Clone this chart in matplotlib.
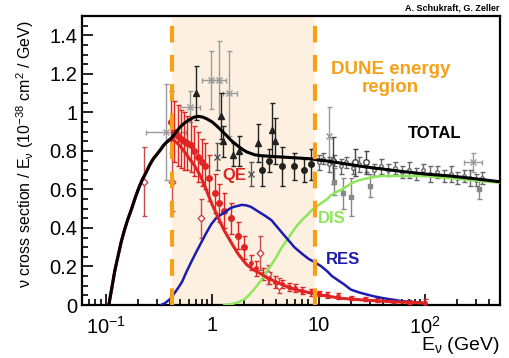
import matplotlib
matplotlib.use("Agg")
import matplotlib.pyplot as plt
from matplotlib.ticker import FixedLocator, FixedFormatter, NullFormatter

plt.rcParams["font.family"] = ["Liberation Sans", "DejaVu Sans"]
plt.rcParams["mathtext.fontset"] = "custom"
plt.rcParams["mathtext.rm"] = "Liberation Sans"
plt.rcParams["mathtext.it"] = "Liberation Sans"

# ---- model curves ----
total_E = [0.107, 0.11, 0.115, 0.12, 0.124, 0.13, 0.14, 0.15, 0.16, 0.175, 0.19, 0.205,
           0.22, 0.24, 0.26, 0.28, 0.3, 0.325, 0.35, 0.38, 0.42, 0.46, 0.5, 0.55, 0.6,
           0.67, 0.74, 0.82, 0.9, 1.0, 1.1, 1.2, 1.36, 1.5, 1.7, 1.9, 2.1, 2.5, 2.9, 4,
           8, 13, 25, 57, 100, 170, 300, 500]
total_xs = [0, 0.04, 0.10, 0.16, 0.20, 0.25, 0.33, 0.39, 0.44, 0.50, 0.56, 0.61,
            0.65, 0.69, 0.73, 0.76, 0.78, 0.805, 0.83, 0.85, 0.87, 0.90, 0.925, 0.945,
            0.96, 0.975, 0.98, 0.975, 0.965, 0.95, 0.93, 0.91, 0.88, 0.855, 0.83, 0.81,
            0.795, 0.78, 0.775, 0.77, 0.76, 0.745, 0.72, 0.695, 0.68, 0.67, 0.655, 0.64]

qe_E = [0.107, 0.11, 0.115, 0.12, 0.124, 0.13, 0.14, 0.15, 0.16, 0.175, 0.19, 0.205,
        0.22, 0.24, 0.26, 0.28, 0.3, 0.325, 0.35, 0.38, 0.42, 0.46, 0.5, 0.55, 0.6,
        0.67, 0.74, 0.82, 0.92, 1.0, 1.1, 1.2, 1.3, 1.45, 1.6, 1.75, 1.9, 2.1, 2.4,
        2.9, 3.3, 3.8, 4.8, 6, 8, 11, 16, 25, 40, 60, 100]
qe_xs = [0, 0.04, 0.10, 0.16, 0.20, 0.25, 0.33, 0.39, 0.44, 0.50, 0.56, 0.61,
         0.65, 0.69, 0.73, 0.76, 0.78, 0.805, 0.83, 0.85, 0.86, 0.845, 0.825, 0.795,
         0.765, 0.73, 0.69, 0.64, 0.57, 0.52, 0.47, 0.425, 0.385, 0.34, 0.30, 0.265,
         0.24, 0.21, 0.185, 0.16, 0.14, 0.125, 0.10, 0.08, 0.065, 0.05, 0.035, 0.027,
         0.02, 0.015, 0.01]

res_E = [0.33, 0.36, 0.4, 0.44, 0.48, 0.52, 0.57, 0.63, 0.7, 0.78, 0.87, 0.98, 1.1,
         1.3, 1.45, 1.6, 1.9, 2.1, 2.3, 2.8, 3.2, 3.6, 4.6, 5.9, 7, 8, 9.3, 10.6, 12,
         13.3, 15, 17, 20, 24, 28, 33, 39, 50, 60, 80, 100]
res_xs = [0, 0.01, 0.03, 0.06, 0.09, 0.12, 0.17, 0.22, 0.27, 0.32, 0.37, 0.42, 0.455,
          0.48, 0.50, 0.51, 0.52, 0.517, 0.51, 0.48, 0.46, 0.44, 0.37, 0.30, 0.265,
          0.24, 0.22, 0.20, 0.175, 0.15, 0.13, 0.11, 0.08, 0.065, 0.055, 0.045, 0.037,
          0.027, 0.02, 0.014, 0.01]

dis_E = [1.3, 1.5, 1.76, 2.0, 2.2, 2.5, 2.9, 3.2, 3.6, 4, 4.5, 5, 5.5, 6.2, 6.9, 7.7,
         8.5, 9.5, 10.6, 12, 13, 15, 16.5, 20, 23, 27, 33, 40, 70, 100, 200, 500]
dis_xs = [0, 0.004, 0.015, 0.03, 0.05, 0.085, 0.13, 0.17, 0.21, 0.25, 0.30, 0.335,
          0.37, 0.41, 0.44, 0.465, 0.49, 0.51, 0.53, 0.55, 0.57, 0.59, 0.60, 0.63,
          0.645, 0.655, 0.665, 0.67, 0.67, 0.67, 0.655, 0.635]

# ---- measurements ----
gray_E = [0.37, 0.62, 0.98, 1.15, 1.45, 12.6, 280]
gray_xs = [0.90, 1.03, 1.17, 1.17, 1.10, 0.88, 0.74]
gray_yerr = [0.25, 0.08, 0.15, 0.20, 0.22, 0.15, 0.05]
gray_xlo = [0.13, 0.12, 0.18, 0.15, 0.2, 0, 50]
gray_xhi = [0.2, 0.15, 0.2, 0.2, 0.25, 0, 60]

tri_E = [0.71, 1.2, 1.25, 1.57, 1.8, 2.7, 3.6, 3.9]
tri_xs = [1.10, 0.98, 0.85, 0.78, 0.80, 0.84, 0.91, 0.85]
tri_err = [0.14, 0.12, 0.08, 0.06, 0.08, 0.10, 0.14, 0.12]

dot_E = [2.9, 3.4, 4.5, 5.9, 7.2, 8.5]
dot_xs = [0.70, 0.75, 0.72, 0.72, 0.70, 0.73]
dot_err = [0.08, 0.06, 0.10, 0.07, 0.06, 0.08]

x_E = [1.1, 2.3]
x_xs = [0.77, 0.68]
x_err = [0.07, 0.06]

sq_E = [14, 17, 20, 30, 320]
sq_xs = [0.64, 0.58, 0.56, 0.62, 0.60]
sq_err = [0.07, 0.08, 0.10, 0.06, 0.05]

open_E = [13.5, 22, 28]
open_xs = [0.75, 0.74, 0.74]
open_err = [0.12, 0.07, 0.06]

hi_E = [10, 11, 12.5, 14, 16, 18, 21, 24, 28, 33, 38, 45, 52, 60, 70, 82, 95, 110,
        130, 150, 175, 200, 230, 260, 300, 340]
hi_xs = [0.74, 0.76, 0.73, 0.75, 0.72, 0.74, 0.71, 0.73, 0.72, 0.70, 0.72, 0.70, 0.71,
         0.69, 0.70, 0.68, 0.70, 0.68, 0.69, 0.67, 0.68, 0.66, 0.67, 0.66, 0.65, 0.66]
hi_err = [0.04, 0.03, 0.04, 0.03, 0.04, 0.03, 0.03, 0.04, 0.03, 0.03, 0.04, 0.03, 0.03,
          0.03, 0.04, 0.03, 0.03, 0.04, 0.03, 0.03, 0.04, 0.03, 0.03, 0.04, 0.03, 0.03]

red_E = [0.41, 0.44, 0.48, 0.51, 0.54, 0.58, 0.63, 0.68, 0.74, 0.8, 0.85, 0.94, 1.05,
         1.16, 1.3, 1.5, 1.76, 2.0]
red_xs = [0.95, 0.90, 0.88, 0.86, 0.85, 0.84, 0.83, 0.80, 0.77, 0.74, 0.72, 0.66, 0.58,
          0.53, 0.49, 0.45, 0.36, 0.30]
red_err = [0.16, 0.16, 0.16, 0.15, 0.15, 0.14, 0.14, 0.13, 0.13, 0.12, 0.12, 0.12, 0.10,
           0.10, 0.09, 0.08, 0.07, 0.06]

redhi_E = [2.3, 2.6, 3, 3.4, 3.9, 4.5, 5.2, 6, 7, 8.5, 10, 12, 15, 20, 27, 35, 50, 70, 100]
redhi_xs = [0.22, 0.19, 0.16, 0.14, 0.12, 0.11, 0.095, 0.09, 0.075, 0.065, 0.06, 0.05,
            0.045, 0.035, 0.03, 0.025, 0.02, 0.015, 0.01]
redhi_err = [0.04, 0.04, 0.03, 0.03, 0.03, 0.02, 0.02, 0.02, 0.02, 0.02, 0.015, 0.015,
             0.015, 0.01, 0.01, 0.01, 0.01, 0.01, 0.02]

redopen_E = [0.228, 0.42, 0.79, 2.8, 3.3, 4.2]
redopen_xs = [0.64, 0.64, 0.45, 0.27, 0.16, 0.10]
redopen_err = [0.18, 0.15, 0.10, 0.09, 0.05, 0.04]

dune_lo, dune_hi = 0.42, 9.2

ORANGE = "#f7a11a"
fig = plt.figure(figsize=(5.1, 3.58), dpi=100)
ax = fig.add_axes([0.161, 0.148, 0.819, 0.807])
ax.set_xscale("log")
ax.set_xlim(0.06, 500)
ax.set_ylim(0, 1.5)

ax.axvspan(dune_lo, dune_hi, color="#fdf0e1", zorder=0, lw=0)

eb = dict(ls="none", elinewidth=1.0, capsize=1.8, capthick=1.0)
ax.errorbar(gray_E, gray_xs, yerr=gray_yerr, xerr=[gray_xlo, gray_xhi],
            fmt="x", color="#9a9a9a", ms=4, zorder=2, **eb)
ax.errorbar(hi_E, hi_xs, yerr=hi_err, fmt="o", mfc="white", color="#666666", ms=2.5, zorder=2, **eb)
ax.errorbar(sq_E, sq_xs, yerr=sq_err, fmt="s", color="#888888", ms=3.5, zorder=2, **eb)
ax.errorbar(open_E, open_xs, yerr=open_err, fmt="o", mfc="white", color="#444444", ms=4, zorder=2, **eb)
ax.errorbar(tri_E, tri_xs, yerr=tri_err, fmt="^", color="#222222", ms=4, zorder=2, **eb)
ax.errorbar(dot_E, dot_xs, yerr=dot_err, fmt="o", color="#222222", ms=4, zorder=2, **eb)
ax.errorbar(x_E, x_xs, yerr=x_err, fmt="x", color="#555555", ms=4, zorder=2, **eb)
ax.errorbar(red_E, red_xs, yerr=red_err, fmt="o", color="#e02424", ms=4, zorder=3, **eb)
ax.errorbar(redhi_E, redhi_xs, yerr=redhi_err, fmt="o", color="#e02424", ms=2.5, zorder=3, **eb)
ax.errorbar(redopen_E, redopen_xs, yerr=redopen_err, fmt="D", mfc="white", color="#c84a4a",
            ms=3.5, zorder=3, **eb)

ax.plot(dis_E, dis_xs, color="#8ee65a", lw=1.8, zorder=4)
ax.plot(res_E, res_xs, color="#1c1cb0", lw=1.8, zorder=4)
ax.plot(qe_E, qe_xs, color="#e02424", lw=2.2, zorder=4)
ax.plot(total_E, total_xs, color="black", lw=2.2, zorder=5)

for x in (dune_lo, dune_hi):
    ax.axvline(x, color=ORANGE, lw=3, ls=(0, (4, 3)), zorder=6)

ax.text(1.61, 0.67, "QE", color="#e02424", fontsize=12, fontweight="bold", ha="center", va="center")
ax.text(13.3, 0.45, "DIS", color="#8ee65a", fontsize=12, fontweight="bold", ha="center", va="center")
ax.text(16.8, 0.235, "RES", color="#1c1cb0", fontsize=12, fontweight="bold", ha="center", va="center")
ax.text(122, 0.89, "TOTAL", color="black", fontsize=12, fontweight="bold", ha="center", va="center")
ax.text(46.8, 1.175, "DUNE energy\nregion", color=ORANGE, fontsize=13.5, fontweight="bold",
        ha="center", va="center", linespacing=1.1)

ax.xaxis.set_major_locator(FixedLocator([0.1, 1, 10, 100]))
ax.xaxis.set_major_formatter(FixedFormatter([r"$\mathregular{10^{-1}}$", "1", "10",
                                             r"$\mathregular{10^{2}}$"]))
minors = [m * d for d in (0.01, 0.1, 1, 10, 100) for m in range(2, 10)]
ax.xaxis.set_minor_locator(FixedLocator(minors))
ax.xaxis.set_minor_formatter(NullFormatter())
ax.yaxis.set_major_locator(FixedLocator([0, 0.2, 0.4, 0.6, 0.8, 1.0, 1.2, 1.4]))
ax.yaxis.set_major_formatter(FixedFormatter(["0", "0.2", "0.4", "0.6", "0.8", "1", "1.2", "1.4"]))
ax.yaxis.set_minor_locator(FixedLocator([i * 0.05 for i in range(31)]))
ax.tick_params(which="both", direction="in", labelsize=14.5, width=1.2)
ax.tick_params(which="major", length=8)
ax.tick_params(which="minor", length=4)
ax.tick_params(axis="x", pad=8)
for s in ax.spines.values():
    s.set_linewidth(1.6)

fig.text(0.05, 0.57, r"$\mathregular{\nu}$ cross section / $\mathregular{E_\nu}$ "
         r"$\mathregular{(10^{-38}\ cm^2\ /\ GeV)}$", rotation=90, fontsize=11.5,
         ha="center", va="center")
fig.text(0.98, 0.036, r"$\mathregular{E_\nu}$ (GeV)", fontsize=14, ha="right", va="center")
fig.text(0.98, 0.978, "A. Schukraft, G. Zeller", fontsize=6.5, fontweight="bold",
         ha="right", va="center")

fig.savefig("out.png", dpi=100)
